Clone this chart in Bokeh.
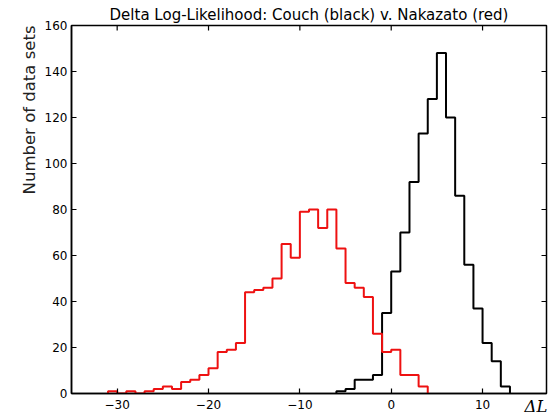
import math
from bokeh.plotting import figure
from bokeh.models import FixedTicker, LinearAxis
from bokeh.embed import file_html
from bokeh.resources import INLINE

# ---- data (histogram counts, bin width 1) ----
couch_start = -6
couch_counts = [1, 2, 6, 6, 8, 35, 53, 70, 92, 113, 128, 148, 120, 86, 56, 37, 22, 14, 3]
nakazato_start = -31
nakazato_counts = [1, 0, 1, 0, 1, 2, 3, 2, 5, 6, 8, 11, 18, 19, 22, 44, 45, 46, 50,
                   65, 59, 79, 80, 72, 80, 63, 48, 46, 42, 26, 18, 19, 8, 8, 3]
x_ticks = [-30, -20, -10, 0, 10]
y_ticks = [0, 20, 40, 60, 80, 100, 120, 140, 160]
title_text = "Delta Log-Likelihood: Couch (black) v. Nakazato (red)"
ylabel_text = "Number of data sets"
xlabel_text = "ΔL"

X_MIN, X_MAX = -35, 17
Y_MIN, Y_MAX = 0, 160
# layout anchors (where the axis titles sit, in data units)
XLABEL_AT = 15.85
YLABEL_AT = Y_MAX


def step_arrays(start, counts):
    edges = [start + i for i in range(len(counts) + 1)]
    xs = [edges[0]] + edges
    ys = [0] + list(counts) + [0]
    return xs, ys


FONT = "DejaVu Sans"

p = figure(width=553, height=418, x_range=(X_MIN, X_MAX), y_range=(Y_MIN, Y_MAX),
           output_backend="svg", toolbar_location=None,
           min_border_left=71, min_border_right=7, min_border_top=25, min_border_bottom=25)
p.background_fill_color = "white"
p.border_fill_color = "white"
p.xgrid.visible = False
p.ygrid.visible = False
p.outline_line_color = "black"
p.outline_line_width = 1.5
p.outline_line_alpha = 1.0

p.title.text = title_text
p.title.align = "center"
p.title.text_font = FONT
p.title.text_font_size = "15px"
p.title.text_font_style = "normal"
p.title.text_color = "black"
p.title.standoff = 3

minus = lambda v: str(v).replace("-", "\u2212")

for ax in [p.xaxis[0], p.yaxis[0]]:
    ax.major_tick_in = 5
    ax.major_tick_out = 0
    ax.minor_tick_in = 0
    ax.minor_tick_out = 0
    ax.axis_line_width = 1.5
    ax.major_tick_line_width = 1.2
    ax.major_label_text_font = FONT
    ax.major_label_text_font_size = "12px"
    ax.major_label_text_color = "black"
    ax.major_label_standoff = 4

p.xaxis[0].major_label_standoff = 6
p.xaxis[0].ticker = FixedTicker(ticks=x_ticks)
p.xaxis[0].major_label_overrides = {t: minus(t) for t in x_ticks}
p.yaxis[0].ticker = FixedTicker(ticks=y_ticks)

# x title: a label-only axis stacked under the bottom axis, pulled up onto the tick-label row
x_title_axis = LinearAxis(ticker=FixedTicker(ticks=[XLABEL_AT]),
                          major_label_overrides={XLABEL_AT: xlabel_text},
                          major_tick_in=0, major_tick_out=0, minor_tick_in=0, minor_tick_out=0,
                          axis_line_color=None, major_tick_line_color=None,
                          major_label_standoff=-15,
                          major_label_text_font="DejaVu Serif",
                          major_label_text_font_style="italic",
                          major_label_text_font_size="16.5px",
                          major_label_text_color="black")
p.add_layout(x_title_axis, "below")

# y title: a label-only axis stacked left of the y axis, ending at its top
y_title_axis = LinearAxis(ticker=FixedTicker(ticks=[YLABEL_AT]),
                          major_label_overrides={YLABEL_AT: ylabel_text},
                          major_label_orientation=math.pi / 2,
                          major_tick_in=0, major_tick_out=0, minor_tick_in=0, minor_tick_out=0,
                          axis_line_color=None, major_tick_line_color=None,
                          major_label_standoff=12,
                          major_label_text_font=FONT,
                          major_label_text_font_size="16.5px",
                          major_label_text_color="#222222")
p.add_layout(y_title_axis, "left")

# inward ticks on top and right edges (half of each dash is clipped by the frame)
p.scatter(x_ticks, [Y_MAX] * len(x_ticks), marker="dash", size=10, angle=math.pi / 2,
          line_color="black", line_width=1.2)
p.scatter([X_MAX] * len(y_ticks), y_ticks, marker="dash", size=10, angle=0,
          line_color="black", line_width=1.2)

xs, ys = step_arrays(couch_start, couch_counts)
p.step(xs, ys, mode="after", line_color="black", line_width=2)
xs, ys = step_arrays(nakazato_start, nakazato_counts)
p.step(xs, ys, mode="after", line_color="#ee1111", line_width=2)

open("out.html", "w").write(file_html(p, INLINE))
